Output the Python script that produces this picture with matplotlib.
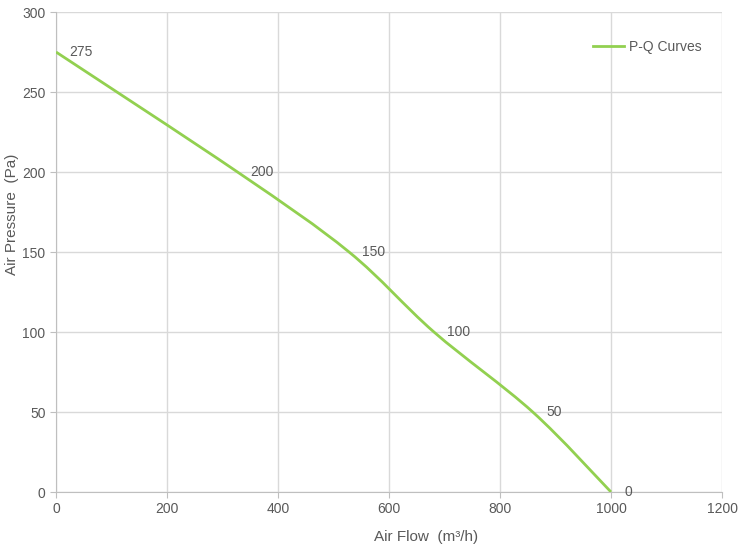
import matplotlib
matplotlib.use("Agg")
import matplotlib.pyplot as plt
from matplotlib.path import Path
from matplotlib.patches import PathPatch
from matplotlib.lines import Line2D
import numpy as np

# Data
air_flow = [0, 327, 528, 681, 859, 1000]
air_pressure = [275, 200, 150, 100, 50, 0]
point_labels = ["275", "200", "150", "100", "50", "0"]
x_ticks = [0, 200, 400, 600, 800, 1000, 1200]
y_ticks = [0, 50, 100, 150, 200, 250, 300]

GREEN = "#92D050"
TEXT = "#595959"
GRID = "#D9D9D9"

plt.rcParams['font.family'] = ['Liberation Sans', 'DejaVu Sans']

fig = plt.figure(figsize=(7.53, 5.44), dpi=100)
ax = fig.add_axes([56/753, 52/544, 666/753, 480/544])

# Smooth curve (Catmull-Rom as cubic Bezier) through the data points
xs = np.array(air_flow, float)
ys = np.array(air_pressure, float)
n = len(xs)
verts = [(xs[0], ys[0])]
codes = [Path.MOVETO]
t = 1/6
for i in range(n - 1):
    p0 = np.array([xs[max(i-1, 0)], ys[max(i-1, 0)]])
    p1 = np.array([xs[i], ys[i]])
    p2 = np.array([xs[i+1], ys[i+1]])
    p3 = np.array([xs[min(i+2, n-1)], ys[min(i+2, n-1)]])
    c1 = p1 + (p2 - p0) * t
    c2 = p2 - (p3 - p1) * t
    verts += [tuple(c1), tuple(c2), tuple(p2)]
    codes += [Path.CURVE4] * 3
patch = PathPatch(Path(verts, codes), facecolor='none', edgecolor=GREEN, lw=2, zorder=3)
ax.add_patch(patch)

for x, y, lab in zip(air_flow, air_pressure, point_labels):
    ax.annotate(lab, (x, y), xytext=(9.5, 0), textcoords='offset points',
                ha='left', va='center', fontsize=10, color=TEXT, zorder=4)

ax.set_xlim(0, 1200)
ax.set_ylim(0, 300)
ax.set_xticks(x_ticks)
ax.set_yticks(y_ticks)
ax.grid(True, color=GRID, lw=1)
ax.set_axisbelow(True)
for s in ['top', 'right']:
    ax.spines[s].set_visible(False)
for s in ['left', 'bottom']:
    ax.spines[s].set_color("#BFBFBF")
ax.tick_params(axis='both', colors="#BFBFBF", labelcolor=TEXT, labelsize=10, length=4)

ax.set_xlabel("Air Flow  (m³/h)", fontsize=11, color=TEXT)
ax.set_ylabel("Air Pressure  (Pa)", fontsize=11, color=TEXT)
ax.xaxis.set_label_coords(0.556, -0.079)
ax.yaxis.set_label_coords(-0.055, 0.579)

handle = Line2D([], [], color=GREEN, lw=2)
ax.legend([handle], ["P-Q Curves"], loc='center left', bbox_to_anchor=(0.788, 0.927),
          frameon=False, fontsize=10, labelcolor=TEXT, handlelength=2.2,
          handletextpad=0.4)

fig.savefig("out.png", dpi=100)
